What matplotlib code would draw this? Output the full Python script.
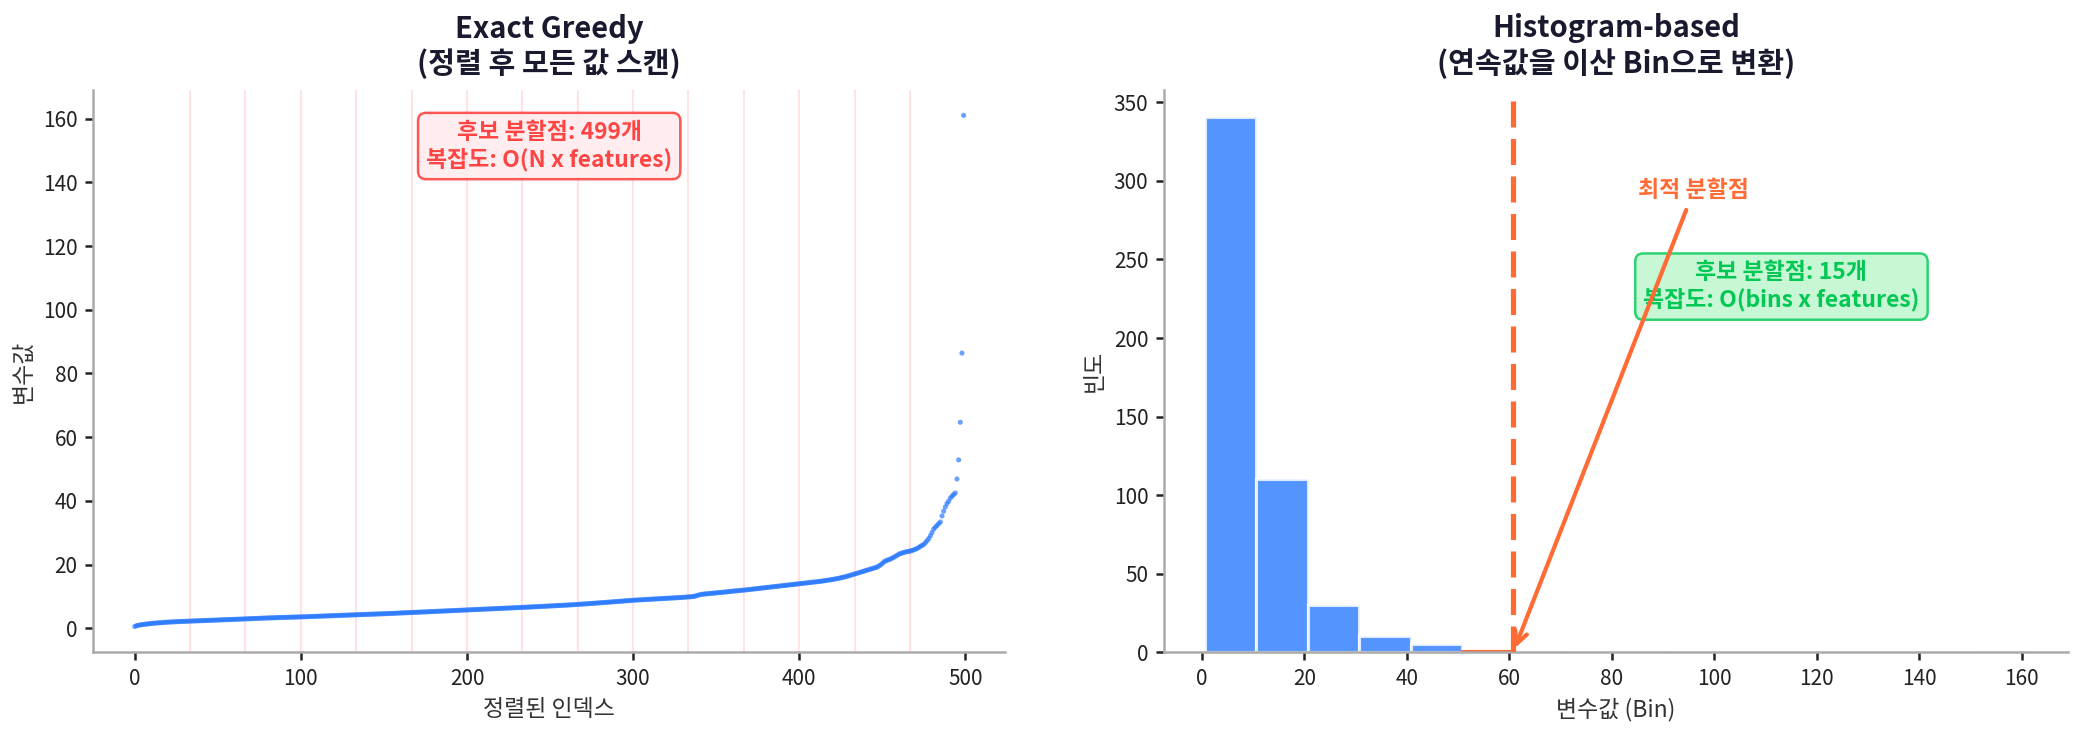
import matplotlib
matplotlib.use("Agg")
import matplotlib.pyplot as plt
import numpy as np

plt.rcParams['font.family'] = ['Noto Sans CJK KR', 'DejaVu Sans']
plt.rcParams['axes.unicode_minus'] = False

# Sorted feature values
sorted_values = [
    0.60, 0.85, 0.98, 1.08, 1.17, 1.24, 1.31, 1.38, 1.45, 1.51, 1.56, 1.61, 1.66, 1.71, 1.75, 1.79, 1.83, 1.87, 1.91, 1.95,
    1.98, 2.01, 2.04, 2.07, 2.09, 2.12, 2.14, 2.16, 2.19, 2.21, 2.23, 2.25, 2.28, 2.30, 2.32, 2.34, 2.36, 2.38, 2.40, 2.42,
    2.44, 2.46, 2.48, 2.50, 2.53, 2.55, 2.57, 2.59, 2.61, 2.63, 2.65, 2.67, 2.69, 2.71, 2.73, 2.75, 2.77, 2.79, 2.81, 2.83,
    2.85, 2.87, 2.90, 2.92, 2.94, 2.96, 2.98, 3.01, 3.03, 3.05, 3.07, 3.10, 3.12, 3.14, 3.16, 3.18, 3.21, 3.23, 3.25, 3.27,
    3.30, 3.31, 3.33, 3.35, 3.36, 3.38, 3.40, 3.42, 3.43, 3.45, 3.47, 3.48, 3.50, 3.52, 3.53, 3.55, 3.56, 3.58, 3.59, 3.60,
    3.62, 3.64, 3.66, 3.68, 3.70, 3.72, 3.74, 3.76, 3.78, 3.80, 3.82, 3.84, 3.86, 3.88, 3.90, 3.92, 3.94, 3.96, 3.98, 4.00,
    4.02, 4.04, 4.06, 4.08, 4.10, 4.12, 4.14, 4.16, 4.18, 4.20, 4.22, 4.24, 4.26, 4.28, 4.30, 4.32, 4.34, 4.36, 4.38, 4.40,
    4.42, 4.44, 4.46, 4.48, 4.50, 4.52, 4.54, 4.56, 4.58, 4.60, 4.62, 4.64, 4.67, 4.69, 4.71, 4.73, 4.75, 4.78, 4.80, 4.83,
    4.85, 4.87, 4.90, 4.92, 4.94, 4.97, 4.99, 5.01, 5.04, 5.06, 5.08, 5.11, 5.13, 5.16, 5.18, 5.20, 5.23, 5.25, 5.28, 5.30,
    5.32, 5.35, 5.37, 5.40, 5.42, 5.44, 5.47, 5.49, 5.52, 5.54, 5.56, 5.59, 5.61, 5.64, 5.66, 5.68, 5.71, 5.73, 5.76, 5.78,
    5.80, 5.83, 5.85, 5.88, 5.90, 5.92, 5.95, 5.97, 6.00, 6.02, 6.04, 6.07, 6.09, 6.12, 6.14, 6.16, 6.19, 6.21, 6.24, 6.26,
    6.28, 6.31, 6.33, 6.36, 6.38, 6.40, 6.43, 6.45, 6.48, 6.50, 6.52, 6.55, 6.57, 6.60, 6.62, 6.65, 6.67, 6.70, 6.72, 6.75,
    6.78, 6.81, 6.83, 6.86, 6.89, 6.91, 6.94, 6.97, 6.99, 7.02, 7.05, 7.08, 7.10, 7.13, 7.16, 7.19, 7.21, 7.24, 7.27, 7.30,
    7.33, 7.36, 7.39, 7.42, 7.46, 7.49, 7.52, 7.56, 7.59, 7.63, 7.66, 7.70, 7.73, 7.77, 7.81, 7.84, 7.88, 7.92, 7.96, 8.00,
    8.04, 8.08, 8.12, 8.16, 8.20, 8.24, 8.28, 8.32, 8.36, 8.40, 8.44, 8.48, 8.52, 8.56, 8.60, 8.64, 8.68, 8.72, 8.76, 8.80,
    8.85, 8.88, 8.91, 8.94, 8.97, 9.00, 9.03, 9.06, 9.09, 9.12, 9.15, 9.18, 9.21, 9.24, 9.27, 9.30, 9.33, 9.36, 9.39, 9.42,
    9.45, 9.48, 9.51, 9.54, 9.57, 9.60, 9.63, 9.66, 9.69, 9.72, 9.76, 9.80, 9.84, 9.88, 9.92, 9.96, 10.00, 10.10, 10.25, 10.40,
    10.55, 10.68, 10.74, 10.80, 10.86, 10.91, 10.96, 11.01, 11.06, 11.11, 11.16, 11.21, 11.26, 11.31, 11.36, 11.41, 11.46, 11.52, 11.58, 11.64,
    11.70, 11.75, 11.80, 11.85, 11.90, 11.95, 12.00, 12.05, 12.10, 12.16, 12.22, 12.28, 12.34, 12.40, 12.46, 12.52, 12.58, 12.64, 12.70, 12.76,
    12.82, 12.88, 12.94, 13.00, 13.06, 13.12, 13.18, 13.24, 13.30, 13.36, 13.42, 13.48, 13.54, 13.60, 13.66, 13.72, 13.78, 13.84, 13.90, 13.96,
    14.02, 14.08, 14.14, 14.20, 14.26, 14.32, 14.38, 14.44, 14.50, 14.56, 14.62, 14.68, 14.74, 14.80, 14.88, 14.96, 15.04, 15.12, 15.20, 15.28,
    15.36, 15.46, 15.56, 15.66, 15.76, 15.88, 16.00, 16.12, 16.26, 16.40, 16.55, 16.70, 16.86, 17.02, 17.18, 17.34, 17.50, 17.66, 17.82, 17.98,
    18.14, 18.30, 18.46, 18.62, 18.78, 18.94, 19.10, 19.30, 19.60, 19.95, 20.35, 20.90, 21.15, 21.40, 21.60, 21.80, 22.05, 22.35, 22.65, 22.95,
    23.30, 23.50, 23.68, 23.84, 23.98, 24.10, 24.20, 24.30, 24.48, 24.66, 24.85, 25.10, 25.40, 25.75, 26.05, 26.35, 26.90, 27.50, 28.20, 29.10,
    30.10, 31.20, 31.80, 32.30, 32.90, 33.40, 35.30, 36.80, 38.10, 39.20, 39.90, 40.90, 41.50, 42.00, 42.50, 46.90, 52.90, 64.70, 86.40, 161.00,
]
n_bins = 16
best_bin_index = 5          # highlighted bin (just left of the best split)
n_vlines = 15               # illustrative split lines on the left panel

titles = ["Exact Greedy\n(정렬 후 모든 값 스캔)", "Histogram-based\n(연속값을 이산 Bin으로 변환)"]
exact_note = "후보 분할점: 499개\n복잡도: O(N x features)"
hist_note = "후보 분할점: 15개\n복잡도: O(bins x features)"
best_label = "최적 분할점"

BLUE = '#2979FF'
ORANGE = '#FF6B35'
RED = '#FF4444'
GREEN = '#00C853'
DARK = '#1A1A2E'

values = np.array(sorted_values)
idx = np.arange(len(values))

fig = plt.figure(figsize=(2083 / 150, 736 / 150), dpi=150)
ax1 = fig.add_axes([0.0448, 0.114, 0.4377, 0.764])
ax2 = fig.add_axes([0.5588, 0.114, 0.4340, 0.764])

for ax in (ax1, ax2):
    ax.spines['top'].set_visible(False)
    ax.spines['right'].set_visible(False)
    for s in ('left', 'bottom'):
        ax.spines[s].set_color('#AAAAAA')
        ax.spines[s].set_linewidth(1.2)
    ax.tick_params(labelsize=10, colors='#222222', length=4, width=1.2)

# Left: exact greedy
ax1.scatter(idx, values, s=6, color=BLUE, alpha=0.7, edgecolors='none', zorder=3)
for xv in np.linspace(0, len(values), n_vlines + 1)[1:-1]:
    ax1.axvline(xv, color=RED, alpha=0.15, lw=1.0, zorder=1)
ax1.set_title(titles[0], fontsize=14, fontweight='bold', color=DARK, pad=8)
ax1.set_xlabel("정렬된 인덱스", fontsize=11, color='#333333')
ax1.set_ylabel("변수값", fontsize=11, color='#333333')
ax1.text(0.5, 0.90, exact_note, transform=ax1.transAxes, ha='center', va='center',
         fontsize=11, fontweight='bold', color=RED,
         bbox=dict(boxstyle='round,pad=0.35', facecolor='#FFEBEE', edgecolor=RED, alpha=0.9, lw=1.2))

# Right: histogram
counts, edges, patches = ax2.hist(values, bins=n_bins, color=BLUE, alpha=0.8,
                                  edgecolor='white', linewidth=1.5)
patches[best_bin_index].set_facecolor(ORANGE)
patches[best_bin_index].set_edgecolor(ORANGE)
patches[best_bin_index].set_alpha(1.0)
best_split = edges[best_bin_index + 1]
ax2.axvline(best_split, color=ORANGE, lw=2.5, ls=(0, (5, 2.2)), zorder=4)
ax2.annotate(best_label, xy=(best_split, 0), xytext=(96, 294),
             ha='center', va='center', fontsize=11, fontweight='bold', color=ORANGE,
             arrowprops=dict(arrowstyle='->', color=ORANGE, lw=2, mutation_scale=15), zorder=5)
ax2.text(0.683, 0.65, hist_note, transform=ax2.transAxes, ha='center', va='center',
         fontsize=11, fontweight='bold', color=GREEN,
         bbox=dict(boxstyle='round,pad=0.35', facecolor='#B9F6CA', edgecolor=GREEN, alpha=0.8, lw=1.2))
ax2.set_title(titles[1], fontsize=14, fontweight='bold', color=DARK, pad=8)
ax2.set_xlabel("변수값 (Bin)", fontsize=11, color='#333333')
ax2.set_ylabel("빈도", fontsize=11, color='#333333')

fig.savefig("out.png", dpi=150, facecolor='white')
